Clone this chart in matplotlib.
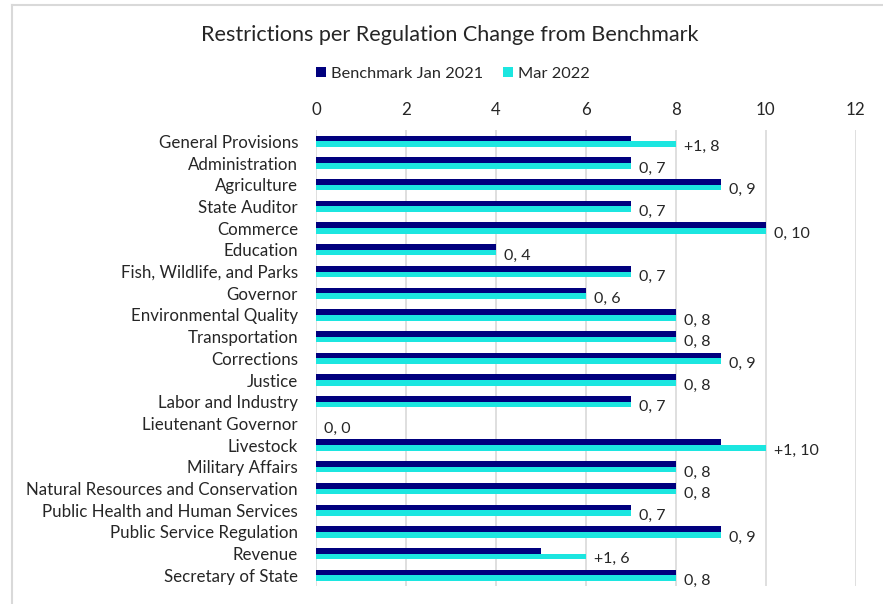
import matplotlib.pyplot as plt
import numpy as np
from matplotlib.lines import Line2D

categories = ["General Provisions", "Administration", "Agriculture", "State Auditor",
              "Commerce", "Education", "Fish, Wildlife, and Parks", "Governor",
              "Environmental Quality", "Transportation", "Corrections", "Justice",
              "Labor and Industry", "Lieutenant Governor", "Livestock", "Military Affairs",
              "Natural Resources and Conservation", "Public Health and Human Services",
              "Public Service Regulation", "Revenue", "Secretary of State"]
benchmark = [7, 7, 9, 7, 10, 4, 7, 6, 8, 8, 9, 8, 7, 0, 9, 8, 8, 7, 9, 5, 8]
mar2022 = [8, 7, 9, 7, 10, 4, 7, 6, 8, 8, 9, 8, 7, 0, 10, 8, 8, 7, 9, 6, 8]
xticks = [0, 2, 4, 6, 8, 10, 12]

plt.rcParams['font.family'] = ['Lato', 'DejaVu Sans']

navy = "#00007e"
cyan = "#1ce6e0"

fig = plt.figure(figsize=(8.83, 6.04), dpi=100)
ax = fig.add_axes([0.358, 0.0295, 0.611, 0.7545])

y = np.arange(len(categories))
h = 0.26
ax.barh(y - h / 2, benchmark, height=h, color=navy, label="Benchmark Jan 2021", zorder=3)
ax.barh(y + h / 2, mar2022, height=h, color=cyan, label="Mar 2022", zorder=3)

for i, (b, m) in enumerate(zip(benchmark, mar2022)):
    d = m - b
    txt = ("+%d" % d if d > 0 else "%d" % d) + ", %d" % m
    ax.annotate(txt, (m, y[i] + h / 2), xytext=(6, -2), textcoords="offset points",
                va="center", ha="left", fontsize=11.5, color="#262626")

ax.set_ylim(len(categories) - 0.5, -0.5)
ax.set_xlim(0, 12)
ax.set_xticks(xticks)
ax.xaxis.tick_top()
ax.set_yticks(y)
ax.set_yticklabels(categories)
ax.tick_params(axis="both", length=0, labelsize=12.2, colors="#262626")
ax.tick_params(axis="x", pad=9)
ax.tick_params(axis="y", pad=13)
ax.grid(axis="x", color="#d9d9d9", linewidth=1.2, zorder=0)
for s in ax.spines.values():
    s.set_visible(False)

fig.text(0.5095, 0.942, "Restrictions per Regulation Change from Benchmark",
         ha="center", va="center", fontsize=15.6, color="#262626")
fig.legend(loc="center", bbox_to_anchor=(0.513, 0.878), ncol=2, frameon=False,
           fontsize=11.8, handlelength=0.6, handleheight=0.6, handletextpad=0.3,
           columnspacing=1.2, labelcolor="#262626")

# chart area border (top and left edges visible)
fig.add_artist(Line2D([12 / 883, 1], [1 - 5 / 604, 1 - 5 / 604], transform=fig.transFigure,
                      color="#d9d9d9", linewidth=1.5))
fig.add_artist(Line2D([12 / 883, 12 / 883], [0, 1 - 5 / 604], transform=fig.transFigure,
                      color="#d9d9d9", linewidth=1.5))

fig.savefig("out.png", dpi=100)
